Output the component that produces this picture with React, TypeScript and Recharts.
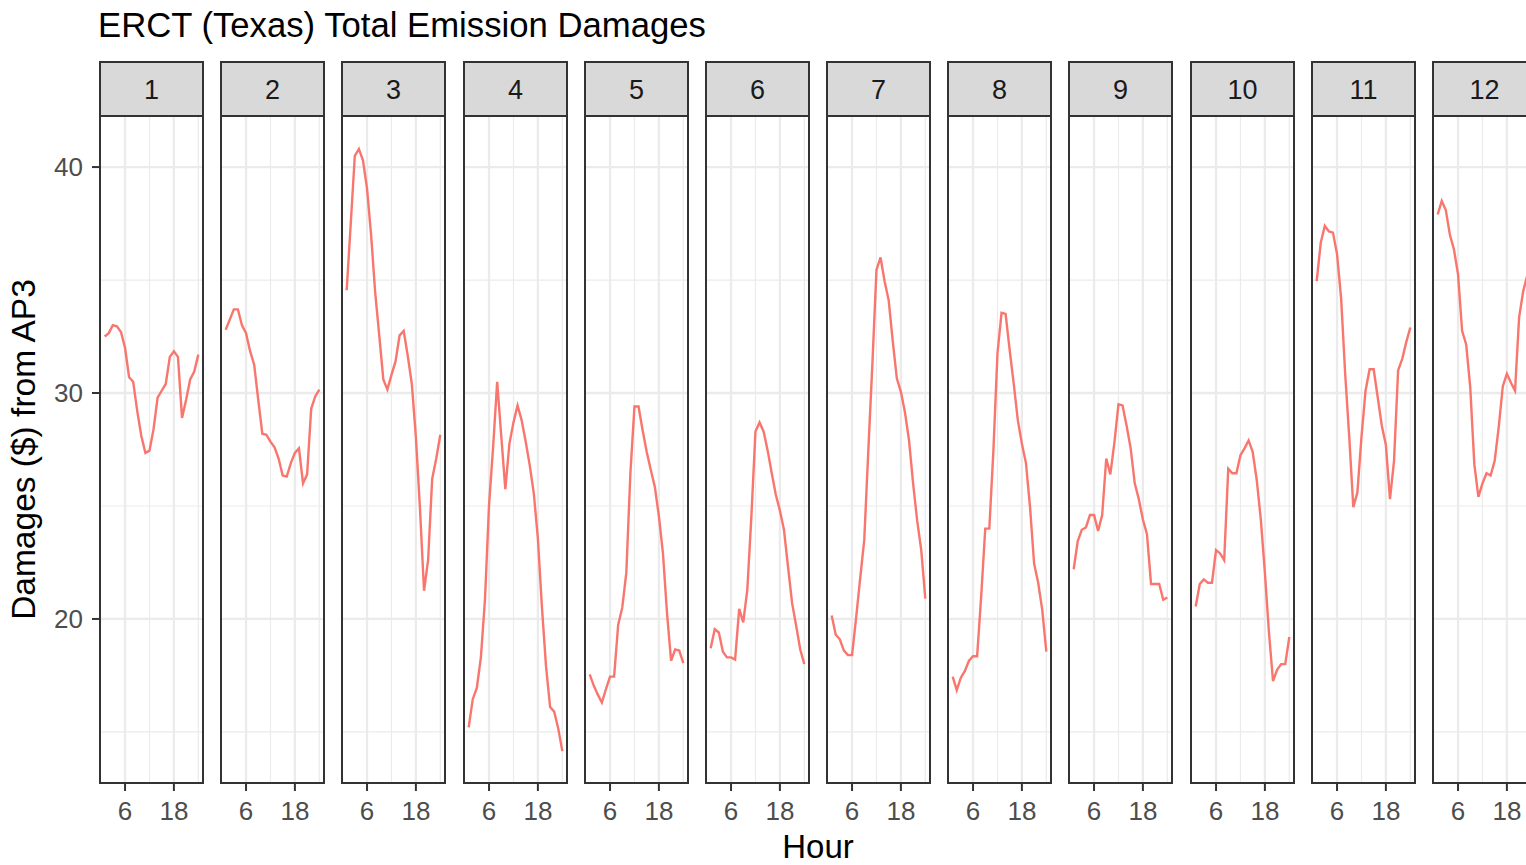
import { LineChart, Line, XAxis, YAxis, ReferenceLine } from 'recharts';

const hours = [1, 2, 3, 4, 5, 6, 7, 8, 9, 10, 11, 12, 13, 14, 15, 16, 17, 18, 19, 20, 21, 22, 23, 24];

const months = ['1', '2', '3', '4', '5', '6', '7', '8', '9', '10', '11', '12'];

const month1 = [32.5, 32.65, 33.0, 32.95, 32.7, 32.0, 30.7, 30.5, 29.2, 28.1, 27.35, 27.45, 28.4, 29.8, 30.1, 30.4, 31.6, 31.85, 31.6, 28.9, 29.7, 30.6, 30.95, 31.7];
const month2 = [32.8, 33.25, 33.7, 33.7, 33.0, 32.65, 31.85, 31.25, 29.7, 28.2, 28.15, 27.85, 27.6, 27.1, 26.35, 26.3, 26.9, 27.35, 27.55, 26.0, 26.4, 29.3, 29.85, 30.15];
const month3 = [34.55, 37.5, 40.5, 40.8, 40.3, 39.05, 37.0, 34.45, 32.55, 30.6, 30.15, 30.8, 31.4, 32.55, 32.75, 31.65, 30.4, 28.05, 24.9, 21.25, 22.6, 26.2, 27.1, 28.15];
const month4 = [15.2, 16.45, 16.95, 18.3, 20.85, 25.05, 27.6, 30.5, 28.1, 25.75, 27.75, 28.7, 29.45, 28.8, 27.85, 26.8, 25.55, 23.55, 20.5, 17.9, 16.1, 15.9, 15.15, 14.15];
const month5 = [17.55, 17.05, 16.65, 16.3, 16.9, 17.45, 17.45, 19.75, 20.5, 22.05, 26.45, 29.4, 29.4, 28.35, 27.4, 26.6, 25.85, 24.55, 22.9, 20.25, 18.15, 18.65, 18.6, 18.05];
const month6 = [18.7, 19.55, 19.4, 18.55, 18.3, 18.3, 18.2, 20.45, 19.85, 21.3, 24.55, 28.3, 28.7, 28.3, 27.45, 26.45, 25.5, 24.8, 23.95, 22.3, 20.7, 19.7, 18.65, 18.0];
const month7 = [20.15, 19.3, 19.1, 18.6, 18.4, 18.4, 20.05, 21.8, 23.5, 27.45, 31.3, 35.45, 36.0, 34.95, 34.1, 32.3, 30.65, 30.05, 29.15, 27.9, 26.0, 24.35, 23.05, 20.9];
const month8 = [17.45, 16.85, 17.4, 17.7, 18.15, 18.35, 18.35, 21.0, 24.0, 24.0, 27.45, 31.75, 33.55, 33.5, 31.9, 30.4, 28.8, 27.75, 26.9, 24.95, 22.45, 21.6, 20.4, 18.55];
const month9 = [22.2, 23.45, 23.95, 24.05, 24.6, 24.6, 23.9, 24.6, 27.1, 26.4, 27.8, 29.5, 29.45, 28.55, 27.55, 26.0, 25.3, 24.4, 23.75, 21.55, 21.55, 21.55, 20.85, 20.95];
const month10 = [20.55, 21.55, 21.75, 21.6, 21.6, 23.05, 22.9, 22.6, 26.65, 26.45, 26.45, 27.25, 27.55, 27.9, 27.4, 26.15, 24.4, 22.05, 19.4, 17.25, 17.75, 18.0, 18.0, 19.2];
const month11 = [34.95, 36.65, 37.4, 37.15, 37.1, 36.15, 34.2, 30.85, 28.05, 24.95, 25.6, 28.05, 30.1, 31.05, 31.05, 29.8, 28.55, 27.7, 25.3, 27.0, 31.0, 31.5, 32.25, 32.9];
const month12 = [37.9, 38.5, 38.1, 37.0, 36.35, 35.25, 32.75, 32.15, 30.25, 26.85, 25.4, 26.0, 26.45, 26.35, 27.0, 28.5, 30.3, 30.85, 30.45, 30.1, 33.35, 34.5, 35.2, 35.7];

const monthValues = [month1, month2, month3, month4, month5, month6, month7, month8, month9, month10, month11, month12];

const yMajor = [20, 30, 40];
const yMinor = [15, 25, 35];
const xMajor = [6, 18];
const xMinor = [12, 24];

// layout (px)
const PLOT_TOP = 116;
const PLOT_H = 667;
const PANEL_W = 103;
const FIRST_LEFT = 100;
const PITCH = 121.18;
const AXIS_W = 100;
const X_DOMAIN: [number, number] = [-0.15, 25.15];
const Y_DOMAIN: [number, number] = [12.74, 42.26];
const LINE_COLOR = '#F8766D';
const GRID = '#ebebeb';
const DARK = '#333333';

const panelLeft = (i: number) => Math.round(FIRST_LEFT + i * PITCH);

function Panel({ idx }: { idx: number }) {
  const first = idx === 0;
  const data = hours.map((h, i) => ({ hour: h, damages: monthValues[idx][i] }));
  const left = first ? panelLeft(0) - AXIS_W : panelLeft(idx);

  return (
    <div style={{ position: 'absolute', left, top: PLOT_TOP }}>
      <LineChart
        width={first ? PANEL_W + AXIS_W : PANEL_W}
        height={PLOT_H + 60}
        data={data}
        margin={{ top: 0, right: 0, bottom: 0, left: 0 }}
      >
        <XAxis
          dataKey="hour"
          type="number"
          domain={X_DOMAIN}
          ticks={xMajor}
          interval={0}
          height={60}
          axisLine={false}
          tickSize={8}
          tickMargin={11}
          tickLine={{ stroke: DARK, strokeWidth: 2 }}
          tick={{ fill: '#4d4d4d', fontSize: 26 }}
        />
        <YAxis
          type="number"
          domain={Y_DOMAIN}
          ticks={yMajor}
          interval={0}
          hide={!first}
          width={first ? AXIS_W : 0}
          axisLine={false}
          tickSize={8}
          tickMargin={9}
          tickLine={{ stroke: DARK, strokeWidth: 2 }}
          tick={{ fill: '#4d4d4d', fontSize: 26 }}
        />
        {yMinor.map((v) => (
          <ReferenceLine key={`ym${v}`} y={v} stroke={GRID} strokeWidth={1.2} />
        ))}
        {xMinor.map((v) => (
          <ReferenceLine key={`xm${v}`} x={v} stroke={GRID} strokeWidth={1.2} />
        ))}
        {yMajor.map((v) => (
          <ReferenceLine key={`yM${v}`} y={v} stroke={GRID} strokeWidth={2.3} />
        ))}
        {xMajor.map((v) => (
          <ReferenceLine key={`xM${v}`} x={v} stroke={GRID} strokeWidth={2.3} />
        ))}
        <Line
          type="linear"
          dataKey="damages"
          stroke={LINE_COLOR}
          strokeWidth={2.4}
          dot={false}
          activeDot={false}
          isAnimationActive={false}
        />
      </LineChart>
    </div>
  );
}

export default function App() {
  return (
    <div
      style={{
        position: 'absolute',
        left: 0,
        top: 0,
        width: 1526,
        height: 865,
        overflow: 'hidden',
        background: '#ffffff',
        fontFamily: '"Liberation Sans", Arial, Helvetica, sans-serif',
      }}
    >
      {months.map((m, i) => (
        <Panel key={m} idx={i} />
      ))}
      <svg
        width={1526}
        height={865}
        style={{ position: 'absolute', left: 0, top: 0, pointerEvents: 'none' }}
      >
        <text x={98} y={37} fontSize={34.7} fill="#000000">
          ERCT (Texas) Total Emission Damages
        </text>
        {months.map((m, i) => {
          const x = panelLeft(i);
          return (
            <g key={m}>
              <rect x={x} y={62} width={PANEL_W} height={54} fill="#d9d9d9" stroke={DARK} strokeWidth={2} />
              <text x={x + PANEL_W / 2} y={99} fontSize={27} fill="#1a1a1a" textAnchor="middle">
                {m}
              </text>
              <rect x={x} y={PLOT_TOP} width={PANEL_W} height={PLOT_H} fill="none" stroke={DARK} strokeWidth={2} />
            </g>
          );
        })}
        <text x={818} y={858} fontSize={33} fill="#000000" textAnchor="middle">
          Hour
        </text>
        <text
          x={35}
          y={449.5}
          fontSize={33.5}
          fill="#000000"
          textAnchor="middle"
          transform="rotate(-90 35 449.5)"
        >
          Damages ($) from AP3
        </text>
      </svg>
    </div>
  );
}
